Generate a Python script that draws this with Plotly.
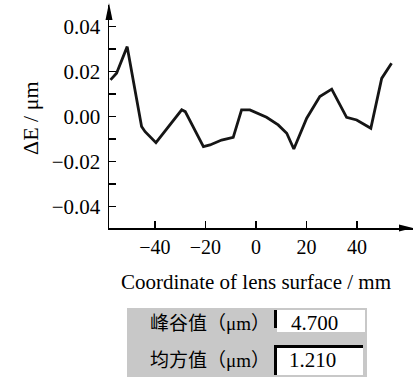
import plotly.graph_objects as go

# ---- data ----
x_mm = [-57.6, -55.2, -51.0, -50.2, -45.3, -43.9, -39.6, -29.4, -28.0, -20.8, -18.2, -13.6,
        -9.0, -5.7, -2.4, 4.2, 8.8, 12.2, 15.0, 20.1, 25.3, 30.0, 35.9, 39.9, 45.5, 49.8, 53.7]
dE_um = [0.0163, 0.0193, 0.0311, 0.0260, -0.0044, -0.0067, -0.0116, 0.0030, 0.0022, -0.0133,
         -0.0126, -0.0104, -0.0092, 0.0030, 0.0030, -0.0003, -0.0037, -0.0074, -0.0144, -0.0007,
         0.0089, 0.0122, -0.0003, -0.0015, -0.0052, 0.0170, 0.0237]
x_ticks = [-40, -20, 0, 20, 40]
y_ticks = [-0.04, -0.02, 0.00, 0.02, 0.04]
table_labels = ["峰谷值（μm）", "均方值（μm）"]
table_values = ["4.700", "1.210"]

W, H = 418, 377
L, R, T, B = 109, 5, 5, 149
PW, PH = W - L - R, H - T - B


def px(xp):
    return (xp - L) / PW


def py(yp):
    return (H - B - yp) / PH


SERIF = "Liberation Serif, Times New Roman, serif"

fig = go.Figure()
fig.add_trace(go.Scatter(x=x_mm, y=dE_um, mode="lines",
                         line=dict(color="#151515", width=2.8), hoverinfo="skip"))

fig.update_layout(
    width=W, height=H,
    margin=dict(l=L, r=R, t=T, b=B),
    paper_bgcolor="white", plot_bgcolor="white",
    showlegend=False,
    xaxis=dict(range=[-58.2, 62.2], tickvals=x_ticks, ticks="inside", ticklen=7,
               tickwidth=1.3, tickcolor="black", showline=True, linecolor="black",
               linewidth=1.5, showgrid=False, zeroline=False,
               tickfont=dict(family=SERIF, size=20, color="black")),
    yaxis=dict(range=[-0.0495, 0.0496], tickvals=y_ticks, tickformat=".2f",
               ticks="inside", ticklen=7, tickwidth=1.3, tickcolor="black",
               showline=True, linecolor="black", linewidth=1.5, showgrid=False,
               zeroline=False, ticklabelstandoff=3,
               minor=dict(tickvals=[-0.03, -0.01, 0.01, 0.03], ticks="inside",
                          ticklen=7, tickwidth=1.3, tickcolor="black", showgrid=False),
               tickfont=dict(family=SERIF, size=21, color="black")),
)

shapes = []
# axis arrowheads
shapes.append(dict(type="path", xref="paper", yref="paper", xsizemode="pixel",
                   ysizemode="pixel", xanchor=0, yanchor=1,
                   path="M 0 2 L -3.5 -15 L 3.5 -15 Z", fillcolor="black",
                   line=dict(width=0)))
shapes.append(dict(type="path", xref="paper", yref="paper", xsizemode="pixel",
                   ysizemode="pixel", xanchor=1, yanchor=0,
                   path="M 0 0 L -14 3.5 L -14 -3.5 Z", fillcolor="black",
                   line=dict(width=0)))
# table panel
shapes.append(dict(type="rect", xref="paper", yref="paper", x0=px(127), x1=px(367),
                   y0=py(377), y1=py(308), fillcolor="#c8c8c8", line=dict(width=0),
                   layer="below"))
# row 1 value box
shapes.append(dict(type="rect", xref="paper", yref="paper", x0=px(277), x1=px(365),
                   y0=py(332), y1=py(310), fillcolor="white", line=dict(width=0)))
shapes.append(dict(type="rect", xref="paper", yref="paper", x0=px(274), x1=px(277),
                   y0=py(328), y1=py(310), fillcolor="black", line=dict(width=0)))
# row 2 value box
shapes.append(dict(type="rect", xref="paper", yref="paper", x0=px(274), x1=px(363),
                   y0=py(375), y1=py(345), fillcolor="white", line=dict(width=0)))
shapes.append(dict(type="rect", xref="paper", yref="paper", x0=px(274), x1=px(363),
                   y0=py(348), y1=py(345), fillcolor="black", line=dict(width=0)))
shapes.append(dict(type="rect", xref="paper", yref="paper", x0=px(274), x1=px(277),
                   y0=py(375), y1=py(345), fillcolor="black", line=dict(width=0)))
fig.update_layout(shapes=shapes)

ann = []
ann.append(dict(text="Coordinate of lens surface / mm", xref="paper", yref="paper",
                x=px(256), y=py(282), showarrow=False, xanchor="center", yanchor="middle",
                font=dict(family=SERIF, size=21, color="black")))
ann.append(dict(text="ΔE / μm", xref="paper", yref="paper", x=px(30), y=py(118),
                showarrow=False, textangle=-90, xanchor="center", yanchor="middle",
                font=dict(family=SERIF, size=22, color="black")))
row_y = [323, 360]
val_x = [289, 287]
for lab, val, yy, vx in zip(table_labels, table_values, row_y, val_x):
    ann.append(dict(text=lab, xref="paper", yref="paper", x=px(272), y=py(yy),
                    showarrow=False, xanchor="right", yanchor="middle",
                    font=dict(family="Liberation Serif, Noto Sans CJK SC", size=19,
                              color="black")))
    ann.append(dict(text=val, xref="paper", yref="paper", x=px(vx), y=py(yy),
                    showarrow=False, xanchor="left", yanchor="middle",
                    font=dict(family=SERIF, size=21, color="black")))
fig.update_layout(annotations=ann)

fig.write_html("out.html", config={"displayModeBar": False, "staticPlot": True},
               post_script="document.body.style.margin='0';document.body.style.overflow='hidden';")
